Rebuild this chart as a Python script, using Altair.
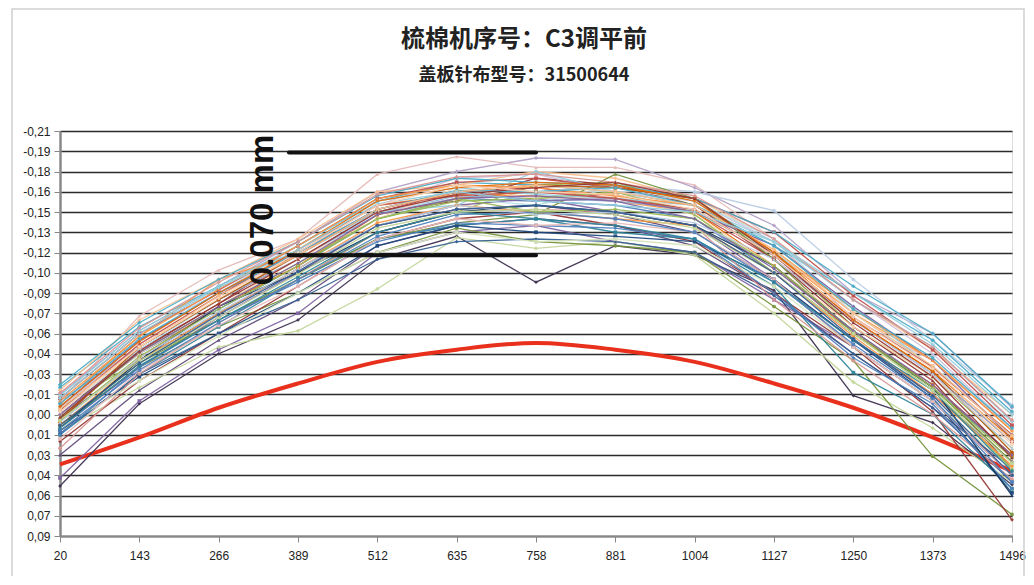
import altair as alt
import pandas as pd

X_POS = [20, 143, 266, 389, 512, 635, 758, 881, 1004, 1127, 1250, 1373, 1496]

Y_TICKS = [-0.21, -0.195, -0.18, -0.165, -0.15, -0.135, -0.12, -0.105, -0.09, -0.075,
           -0.06, -0.045, -0.03, -0.015, 0.0, 0.015, 0.03, 0.045, 0.06, 0.075, 0.09]
Y_LABELS = ["-0,21", "-0,19", "-0,18", "-0,16", "-0,15", "-0,13", "-0,12", "-0,10", "-0,09", "-0,07",
            "-0,06", "-0,04", "-0,03", "-0,01", "0,00", "0,01", "0,03", "0,04", "0,06", "0,07", "0,09"]

REFERENCE = [0.037, 0.017, -0.005, -0.023, -0.039, -0.048, -0.053, -0.048, -0.039, -0.023, -0.005, 0.017, 0.042]

s01 = [0.053, -0.008, -0.045, -0.070, -0.115, -0.132, -0.098, -0.125, -0.118, -0.092, -0.014, 0.006, 0.052]
s02 = [0.047, -0.010, -0.048, -0.075, -0.120, -0.135, -0.140, -0.128, -0.120, -0.085, -0.050, -0.010, 0.045]
s03 = [0.030, -0.018, -0.055, -0.085, -0.125, -0.140, -0.145, -0.140, -0.125, -0.090, -0.045, -0.005, 0.040]
s04 = [0.012, -0.020, -0.050, -0.062, -0.093, -0.131, -0.123, -0.128, -0.118, -0.075, -0.024, 0.010, 0.050]
s05 = [0.008, -0.035, -0.065, -0.090, -0.120, -0.138, -0.128, -0.125, -0.120, -0.080, -0.040, 0.031, 0.074]
s06 = [0.020, -0.025, -0.060, -0.095, -0.130, -0.145, -0.150, -0.140, -0.128, -0.090, -0.050, -0.002, 0.078]
s07 = [0.015, -0.030, -0.065, -0.100, -0.130, -0.140, -0.145, -0.135, -0.130, -0.095, -0.031, 0.000, 0.055]
s08 = [-0.010, -0.073, -0.107, -0.130, -0.178, -0.191, -0.183, -0.183, -0.170, -0.130, -0.070, -0.040, 0.010]
s09 = [-0.015, -0.062, -0.095, -0.128, -0.165, -0.180, -0.190, -0.189, -0.168, -0.140, -0.090, -0.060, -0.005]
s10 = [-0.012, -0.060, -0.090, -0.125, -0.160, -0.170, -0.165, -0.170, -0.165, -0.151, -0.100, -0.055, -0.007]
s11 = [0.000, -0.045, -0.078, -0.110, -0.145, -0.160, -0.158, -0.155, -0.145, -0.105, -0.060, -0.020, 0.030]
s12 = [0.005, -0.050, -0.085, -0.115, -0.150, -0.165, -0.168, -0.160, -0.150, -0.115, -0.070, -0.030, 0.020]
s13 = [-0.005, -0.040, -0.070, -0.100, -0.135, -0.150, -0.170, -0.172, -0.155, -0.120, -0.065, -0.028, 0.025]
s14 = [0.010, -0.035, -0.072, -0.105, -0.140, -0.155, -0.160, -0.150, -0.140, -0.100, -0.055, -0.015, 0.035]
s15 = [-0.020, -0.065, -0.095, -0.125, -0.158, -0.172, -0.170, -0.165, -0.155, -0.125, -0.090, -0.055, -0.002]
s16 = [-0.008, -0.058, -0.100, -0.120, -0.155, -0.163, -0.162, -0.158, -0.150, -0.120, -0.075, -0.040, 0.012]
s17 = [0.012, -0.028, -0.060, -0.090, -0.125, -0.140, -0.135, -0.132, -0.128, -0.100, -0.055, -0.012, 0.058]
s18 = [0.000, -0.048, -0.082, -0.120, -0.150, -0.158, -0.175, -0.170, -0.155, -0.115, -0.065, -0.025, 0.040]
s19 = [-0.018, -0.070, -0.100, -0.130, -0.165, -0.170, -0.180, -0.175, -0.160, -0.130, -0.085, -0.048, 0.000]
s20 = [-0.005, -0.055, -0.090, -0.120, -0.150, -0.155, -0.180, -0.165, -0.150, -0.120, -0.080, -0.035, 0.015]
s21 = [0.014, -0.030, -0.060, -0.085, -0.115, -0.128, -0.130, -0.128, -0.120, -0.088, -0.045, -0.005, 0.050]
s22 = [0.005, -0.042, -0.080, -0.110, -0.148, -0.160, -0.165, -0.163, -0.150, -0.110, -0.060, -0.022, 0.030]
s23 = [0.008, -0.038, -0.070, -0.100, -0.130, -0.142, -0.148, -0.178, -0.160, -0.115, -0.060, -0.020, 0.035]
s24 = [0.003, -0.040, -0.075, -0.108, -0.140, -0.152, -0.155, -0.148, -0.135, -0.100, -0.050, -0.010, 0.045]
s25 = [0.025, -0.030, -0.068, -0.100, -0.135, -0.150, -0.152, -0.150, -0.140, -0.085, -0.040, 0.000, 0.048]
s26 = [-0.010, -0.050, -0.085, -0.115, -0.148, -0.162, -0.160, -0.158, -0.152, -0.118, -0.070, -0.030, 0.020]
s27 = [0.010, -0.025, -0.058, -0.090, -0.120, -0.135, -0.128, -0.130, -0.125, -0.095, -0.050, -0.010, 0.040]
s28 = [-0.005, -0.052, -0.088, -0.120, -0.155, -0.175, -0.178, -0.165, -0.158, -0.128, -0.085, -0.045, 0.010]
s29 = [-0.002, -0.048, -0.085, -0.118, -0.150, -0.160, -0.155, -0.168, -0.158, -0.130, -0.075, -0.035, 0.005]
s30 = [0.000, -0.045, -0.080, -0.115, -0.145, -0.168, -0.160, -0.162, -0.148, -0.110, -0.065, -0.028, 0.022]
s31 = [0.015, -0.035, -0.070, -0.098, -0.128, -0.142, -0.140, -0.138, -0.130, -0.090, -0.042, -0.008, 0.055]
s32 = [-0.012, -0.060, -0.092, -0.125, -0.160, -0.172, -0.175, -0.168, -0.160, -0.135, -0.088, -0.048, 0.008]
s33 = [0.002, -0.046, -0.080, -0.112, -0.145, -0.158, -0.160, -0.165, -0.148, -0.105, -0.060, -0.018, 0.040]
s34 = [-0.022, -0.068, -0.100, -0.128, -0.162, -0.175, -0.172, -0.170, -0.160, -0.135, -0.095, -0.060, -0.006]
s35 = [0.008, -0.040, -0.075, -0.108, -0.142, -0.155, -0.150, -0.145, -0.140, -0.105, -0.058, -0.015, 0.038]
s36 = [-0.006, -0.055, -0.090, -0.120, -0.152, -0.165, -0.158, -0.160, -0.150, -0.125, -0.080, -0.040, 0.018]
s37 = [0.018, -0.032, -0.066, -0.095, -0.130, -0.145, -0.140, -0.142, -0.135, -0.100, -0.050, -0.010, 0.045]
s38 = [0.010, -0.040, -0.080, -0.105, -0.135, -0.150, -0.155, -0.150, -0.140, -0.110, -0.062, -0.020, 0.060]
s39 = [-0.014, -0.062, -0.095, -0.125, -0.158, -0.168, -0.163, -0.160, -0.155, -0.128, -0.085, -0.050, 0.005]
s40 = [0.004, -0.050, -0.085, -0.118, -0.152, -0.165, -0.170, -0.168, -0.160, -0.120, -0.070, -0.032, 0.028]
s41 = [-0.003, -0.052, -0.088, -0.122, -0.155, -0.162, -0.165, -0.160, -0.152, -0.118, -0.072, -0.035, 0.015]
s42 = [0.012, -0.033, -0.068, -0.100, -0.132, -0.148, -0.150, -0.145, -0.135, -0.098, -0.052, -0.012, 0.050]
s43 = [-0.010, -0.058, -0.093, -0.125, -0.160, -0.170, -0.168, -0.162, -0.155, -0.122, -0.078, -0.040, 0.012]
s44 = [0.005, -0.043, -0.078, -0.110, -0.145, -0.160, -0.150, -0.152, -0.145, -0.110, -0.062, -0.020, 0.032]
s45 = [-0.008, -0.056, -0.090, -0.120, -0.152, -0.166, -0.165, -0.168, -0.155, -0.125, -0.078, -0.042, 0.010]
s46 = [0.000, -0.046, -0.080, -0.112, -0.148, -0.160, -0.162, -0.158, -0.145, -0.108, -0.062, -0.022, 0.030]
s47 = [-0.004, -0.050, -0.088, -0.118, -0.152, -0.165, -0.170, -0.165, -0.155, -0.122, -0.075, -0.036, 0.016]
s48 = [0.006, -0.042, -0.076, -0.108, -0.140, -0.155, -0.148, -0.150, -0.142, -0.115, -0.070, -0.030, 0.025]
s49 = [-0.016, -0.064, -0.098, -0.128, -0.163, -0.176, -0.178, -0.172, -0.162, -0.130, -0.085, -0.050, 0.004]
s50 = [0.010, -0.036, -0.070, -0.102, -0.135, -0.150, -0.145, -0.140, -0.130, -0.098, -0.055, -0.018, 0.042]
s51 = [-0.006, -0.054, -0.090, -0.122, -0.158, -0.168, -0.172, -0.170, -0.158, -0.120, -0.070, -0.032, 0.018]
s52 = [0.004, -0.040, -0.072, -0.104, -0.138, -0.150, -0.152, -0.148, -0.138, -0.105, -0.060, -0.018, 0.036]
s53 = [0.002, -0.047, -0.082, -0.115, -0.150, -0.163, -0.168, -0.172, -0.160, -0.118, -0.068, -0.028, 0.032]
s54 = [-0.012, -0.060, -0.094, -0.122, -0.156, -0.165, -0.158, -0.155, -0.150, -0.128, -0.090, -0.052, 0.000]
s55 = [0.008, -0.038, -0.074, -0.106, -0.140, -0.152, -0.155, -0.150, -0.140, -0.105, -0.056, -0.014, 0.045]
s56 = [-0.002, -0.050, -0.086, -0.120, -0.155, -0.170, -0.165, -0.163, -0.152, -0.118, -0.072, -0.034, 0.020]

SERIES = [s01, s02, s03, s04, s05, s06, s07, s08, s09, s10, s11, s12, s13, s14, s15, s16, s17, s18, s19, s20,
          s21, s22, s23, s24, s25, s26, s27, s28, s29, s30, s31, s32, s33, s34, s35, s36, s37, s38, s39, s40,
          s41, s42, s43, s44, s45, s46, s47, s48, s49, s50, s51, s52, s53, s54, s55, s56]

COLORS = ["#3F3151", "#8064A2", "#604A7B", "#C3D69B", "#77933C", "#953735", "#31859C", "#E6B9B8",
          "#B3A2C7", "#B9CDE5", "#4F81BD", "#C0504D", "#9BBB59", "#8064A2", "#4BACC6", "#F79646",
          "#1F497D", "#943634", "#FAC090", "#93CDDD", "#366092", "#E46C0A", "#76923C", "#5F497A",
          "#D99694", "#95B3D7", "#D7E4BD", "#CCC1DA", "#B7DEE8", "#FCD5B5", "#4F81BD", "#C0504D",
          "#9BBB59", "#4BACC6", "#F79646", "#8064A2", "#E6B9B8", "#17375E", "#92CDDC", "#B65708",
          "#C0504D", "#4F81BD", "#F79646", "#9BBB59", "#4BACC6", "#8064A2", "#FAC090", "#B9CDE5",
          "#D99694", "#31859C", "#E46C0A", "#C3D69B", "#953735", "#93CDDD", "#366092", "#FCD5B5"]
SHAPES = ["diamond", "square", "triangle-up", "cross", "circle"]

ANNOT_X_START = [375, 375]
ANNOT_X_END = [758, 758]
ANNOT_Y = [-0.194, -0.118]
ANNOT_TEXT = "0.070 mm"
ANNOT_TEXT_X = [334]
ANNOT_TEXT_Y = [-0.1515]

names = [f"S{i+1:02d}" for i in range(len(SERIES))]
rows = []
for i, (name, vals) in enumerate(zip(names, SERIES)):
    for x, v in zip(X_POS, vals):
        rows.append({"series": name, "x": x, "y": v, "shape": SHAPES[i % len(SHAPES)]})
df = pd.DataFrame(rows)
ref_df = pd.DataFrame({"x": X_POS, "y": REFERENCE})
ann_df = pd.DataFrame({"x": ANNOT_X_START, "x2": ANNOT_X_END, "y": ANNOT_Y})
txt_df = pd.DataFrame({"x": ANNOT_TEXT_X, "y": ANNOT_TEXT_Y, "t": [ANNOT_TEXT]})

label_array = "[" + ",".join(f"'{s}'" for s in Y_LABELS) + "]"
label_expr = f"{label_array}[round((datum.value + 0.21) / 0.015)]"

x_scale = alt.Scale(domain=[20, 1496], nice=False, zero=False)
y_scale = alt.Scale(domain=[-0.21, 0.09], nice=False, zero=False, reverse=True)

x_axis = alt.Axis(values=X_POS, format="d", grid=False, title=None, labelFont="Liberation Sans",
                  labelFontSize=12, labelColor="#222", tickColor="#888", tickSize=6, tickWidth=1,
                  domainColor="#888", domainWidth=2, labelPadding=8, labelFlush=False, labelOverlap=False)
y_axis = alt.Axis(values=Y_TICKS, tickCount=21, grid=True, gridColor="#2b2b2b", gridWidth=1.5, title=None,
                  labelExpr=label_expr, labelFont="Liberation Sans", labelFontSize=12, labelColor="#222",
                  tickColor="#888", tickSize=6, tickWidth=1, domainColor="#888", domainWidth=2.5,
                  labelPadding=4, labelOverlap=False)

X = alt.X("x:Q", scale=x_scale, axis=x_axis)
Y = alt.Y("y:Q", scale=y_scale, axis=y_axis)

frame = alt.Chart(ref_df.head(1)).mark_rect(fill=None, stroke="#d0d0d0", strokeWidth=1.5).encode(
    x=alt.value(-48), x2=alt.value(964), y=alt.value(-122), y2=alt.value(460))

red = alt.Chart(ref_df).mark_line(color="#e8301c", strokeWidth=4, interpolate="monotone").encode(x=X, y=Y)

color = alt.Color("series:N", scale=alt.Scale(domain=names, range=COLORS), legend=None)

lines = alt.Chart(df).mark_line(strokeWidth=1.3, opacity=0.95).encode(
    x=X, y=Y, color=color, detail="series:N")

points = alt.Chart(df).mark_point(filled=True, size=14, opacity=0.95).encode(
    x=X, y=Y, color=color, shape=alt.Shape("shape:N", scale=None, legend=None))

rules = alt.Chart(ann_df).mark_rule(color="#111", strokeWidth=4, strokeCap="round").encode(
    x=X, x2="x2:Q", y=Y)

text = alt.Chart(txt_df).mark_text(font="Liberation Sans", fontWeight="bold", fontSize=33, angle=270,
                                    color="#111", align="center", baseline="middle").encode(
    x=X, y=Y, text="t:N")

chart = alt.layer(frame, red, lines, points, rules, text).properties(
    width=952, height=405,
    padding={"left": 52, "top": 123, "right": 14, "bottom": 40},
    autosize=alt.AutoSizeParams(type="none"),
    title=alt.TitleParams(text="梳棉机序号：C3调平前", subtitle="盖板针布型号：31500644",
                          font="Noto Sans CJK SC", fontSize=24, fontWeight="bold", color="#222",
                          subtitleFont="Noto Sans CJK SC", subtitleFontSize=18, subtitleFontWeight="bold",
                          subtitleColor="#222", subtitlePadding=15, anchor="middle", offset=0,
                          dy=77, dx=-12),
).configure_view(fill="#d9d9d9", stroke="#2b2b2b", strokeWidth=1.5
).configure(background="white")

chart.save("out.html", embed_options={"renderer": "svg", "actions": False})
